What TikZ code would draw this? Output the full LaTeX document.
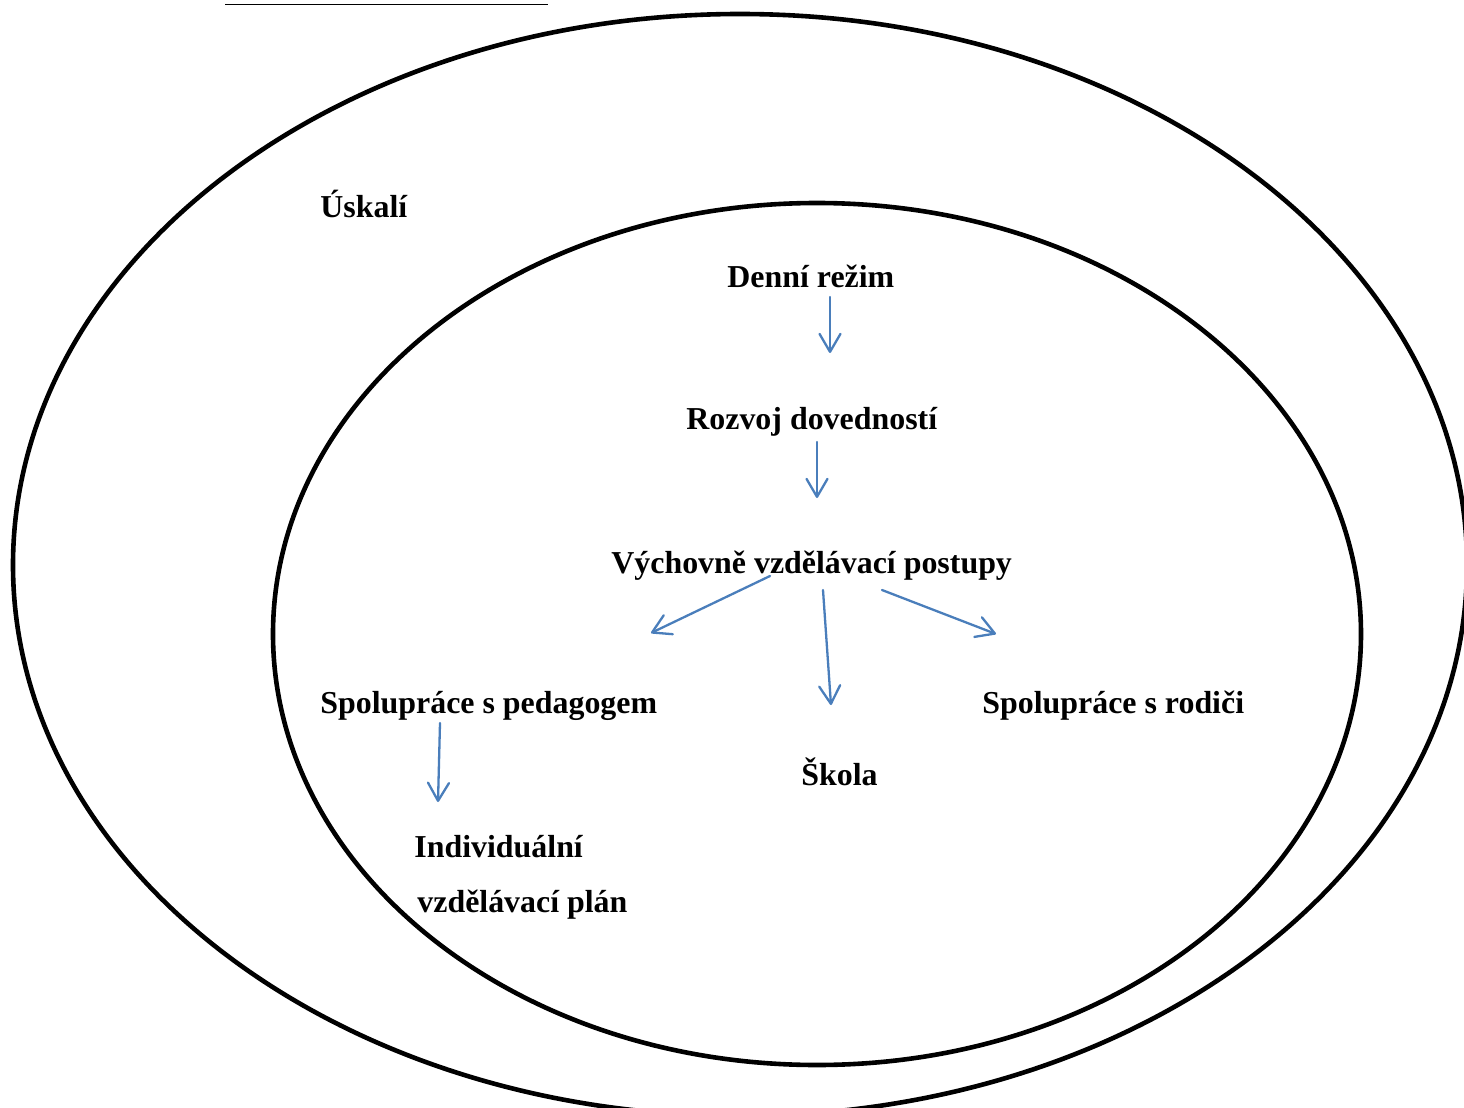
\documentclass[tikz,border=0pt]{standalone}
\usepackage{fontspec}
\setmainfont{Liberation Serif}
\usetikzlibrary{arrows.meta}
\definecolor{arrowblue}{RGB}{74,126,187}
\tikzset{
  ring/.style={draw=black, line width=2.3pt},
  lbl/.style={anchor=base west, inner sep=0pt, font=\fontsize{15.95}{19}\selectfont\bfseries},
  flow/.style={draw=arrowblue, line width=1.15pt, line cap=round,
    -{Straight Barb[length=9pt,width=10.5pt,line cap=round,line join=round]}},
}
\begin{document}
\begin{tikzpicture}[x=0.5pt,y=-0.5pt]
\useasboundingbox (0,0) rectangle (1464,1108);
\begin{scope}
\clip (0,0) rectangle (1464,1108);
% outer and inner ellipses
\draw[ring] (740,565) ellipse [x radius=727, y radius=551];
\draw[ring] (817,634) ellipse [x radius=544, y radius=431];
% underline of the cut-off caption
\coordinate (ul1) at (225,4.7);
\coordinate (ul2) at (548,4.7);
\draw[line width=0.65pt] (ul1) -- (ul2);
\end{scope}
% labels
\node[lbl] (uskali) at (320,217) {Úskalí};
\node[lbl] (denni) at (727,287) {Denní režim};
\node[lbl] (rozvoj) at (686,429) {Rozvoj dovedností};
\node[lbl] (vychovne) at (611,573) {Výchovně vzdělávací postupy};
\node[lbl] (pedagog) at (320,713) {Spolupráce s pedagogem};
\node[lbl] (rodice) at (982,713) {Spolupráce s rodiči};
\node[lbl] (skola) at (801,785) {Škola};
\node[lbl] (indiv) at (414,857) {Individuální};
\node[lbl] (plan) at (417,912) {vzdělávací plán};
% connector ends
\coordinate (a1s) at (830,297);  \coordinate (a1e) at (830,353);
\coordinate (a2s) at (817,442);  \coordinate (a2e) at (817,498);
\coordinate (a3s) at (770,576);  \coordinate (a3e) at (651,633);
\coordinate (a4s) at (823,590);  \coordinate (a4e) at (831,705);
\coordinate (a5s) at (882,590);  \coordinate (a5e) at (996,634);
\coordinate (a6s) at (440,723);  \coordinate (a6e) at (438,802);
\draw[flow] (a1s) -- (a1e);
\draw[flow] (a2s) -- (a2e);
\draw[flow] (a3s) -- (a3e);
\draw[flow] (a4s) -- (a4e);
\draw[flow] (a5s) -- (a5e);
\draw[flow] (a6s) -- (a6e);
\end{tikzpicture}
\end{document}
